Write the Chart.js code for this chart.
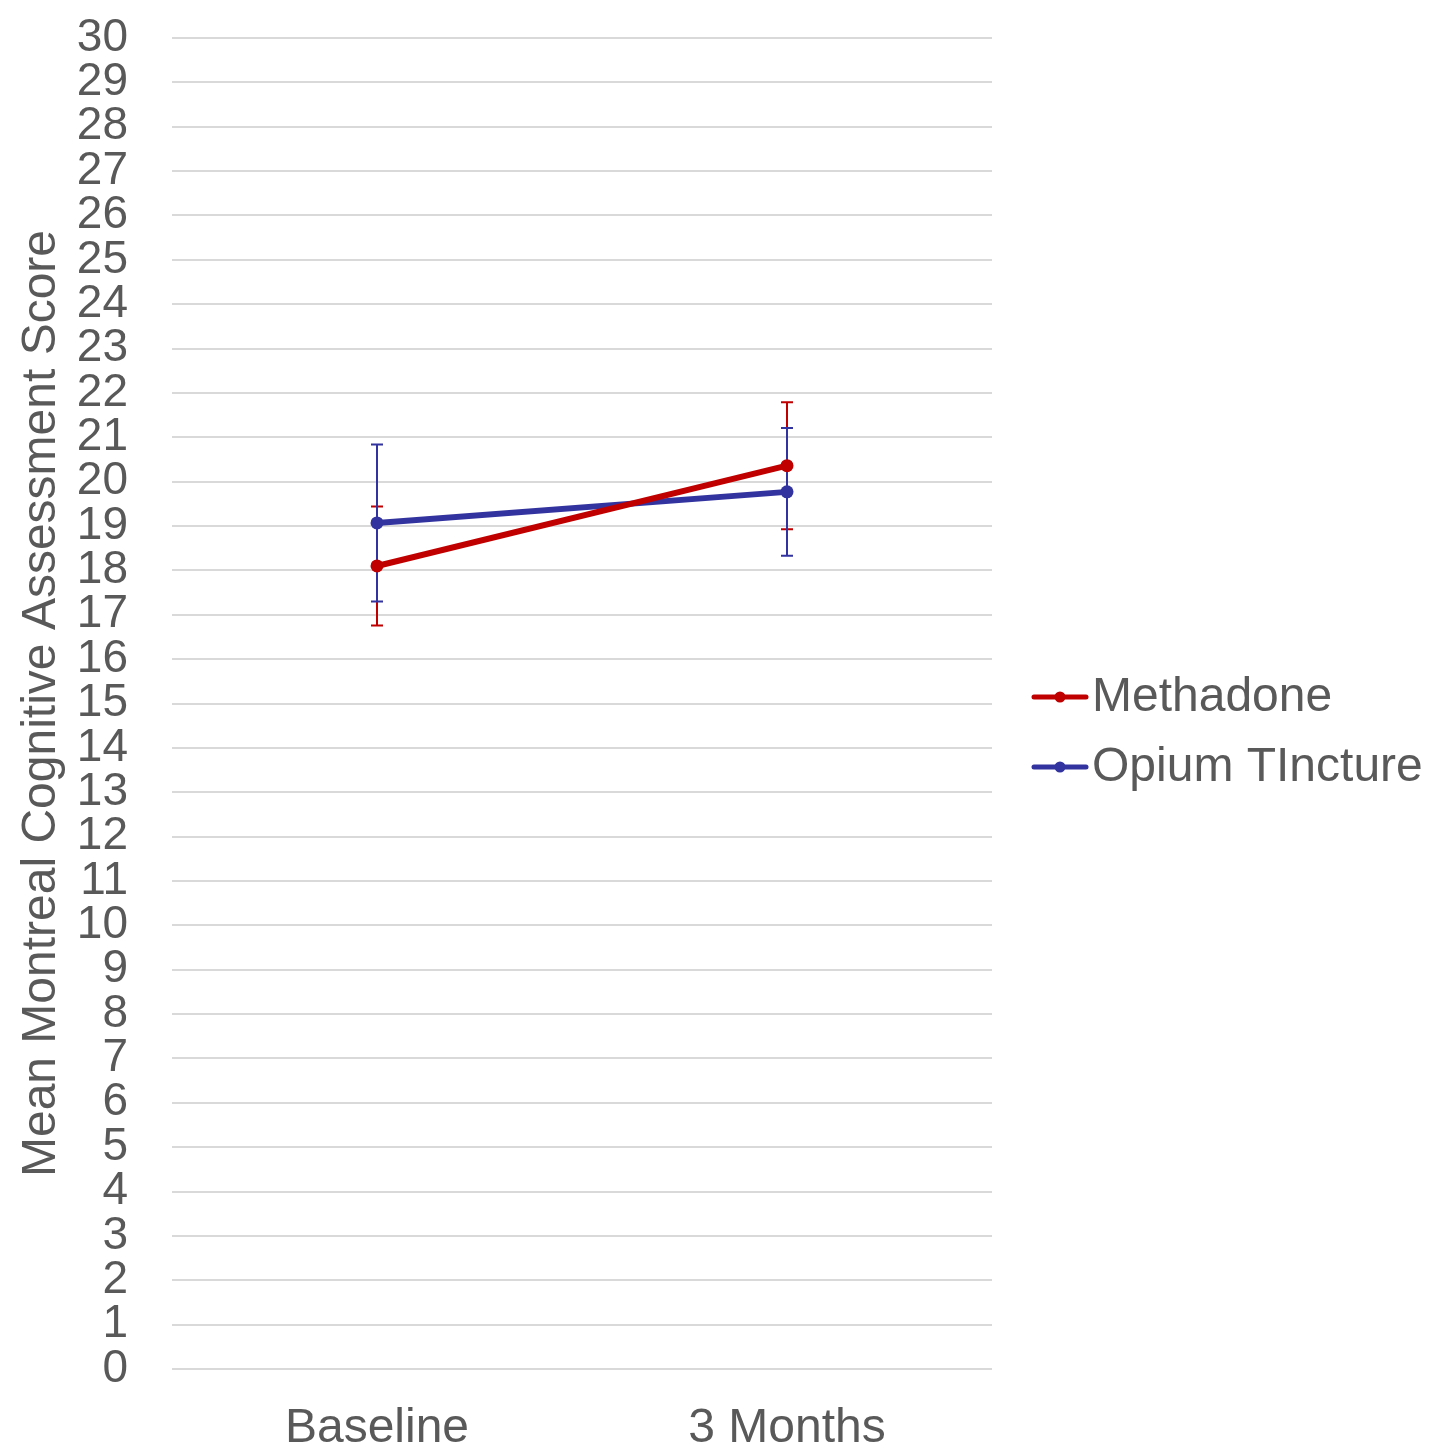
<!DOCTYPE html>
<html lang="en">
<head>
    <meta charset="UTF-8">
    <title>MoCA score</title>
    <script src="https://cdn.jsdelivr.net/npm/chart.js@4.4.0/dist/chart.umd.min.js"></script>
    <style>
        html, body { margin: 0; padding: 0; background: #fff; }
        #wrap { width: 1441px; height: 1446px; }
    </style>
</head>
<body>
    <div id="wrap"><canvas id="myChart"></canvas></div>
    <script>
        // data
        const categories = ["Baseline", "3 Months"];
        const seriesNames = ["Methadone", "Opium TIncture"];
        const methadone = [18.1, 20.36];
        const methadoneErr = [1.34, 1.43];
        const opium = [19.07, 19.77];
        const opiumErr = [1.77, 1.44];

        const red = "#C00000";
        const blue = "#3333A0";
        const textColor = "#595959";
        const fontFamily = "'Liberation Sans', Arial, sans-serif";

        // error bars behind the lines
        const errorBars = {
            id: "errorBars",
            beforeDatasetsDraw(chart) {
                const ctx = chart.ctx;
                const y = chart.scales.y;
                chart.data.datasets.forEach((ds, i) => {
                    const meta = chart.getDatasetMeta(i);
                    meta.data.forEach((pt, j) => {
                        const v = ds.data[j], e = ds.errors[j];
                        const top = y.getPixelForValue(v + e);
                        const bot = y.getPixelForValue(v - e);
                        ctx.save();
                        ctx.strokeStyle = ds.borderColor;
                        ctx.lineWidth = 2;
                        ctx.beginPath();
                        ctx.moveTo(pt.x, top); ctx.lineTo(pt.x, bot);
                        ctx.moveTo(pt.x - 6, top); ctx.lineTo(pt.x + 6, top);
                        ctx.moveTo(pt.x - 6, bot); ctx.lineTo(pt.x + 6, bot);
                        ctx.stroke();
                        ctx.restore();
                    });
                });
            }
        };

        // legend on the right, line with a dot like the original
        const sideLegend = {
            id: "sideLegend",
            afterDraw(chart) {
                const ctx = chart.ctx;
                const x0 = chart.chartArea.right + 42;
                let yy = 697;
                chart.data.datasets.forEach((ds) => {
                    ctx.save();
                    ctx.strokeStyle = ds.borderColor;
                    ctx.lineWidth = 5;
                    ctx.lineCap = "round";
                    ctx.beginPath();
                    ctx.moveTo(x0, yy); ctx.lineTo(x0 + 52, yy);
                    ctx.stroke();
                    ctx.fillStyle = ds.borderColor;
                    ctx.beginPath();
                    ctx.arc(x0 + 26, yy, 5.5, 0, Math.PI * 2);
                    ctx.fill();
                    ctx.fillStyle = textColor;
                    ctx.font = "48px " + fontFamily;
                    ctx.textBaseline = "middle";
                    ctx.textAlign = "left";
                    ctx.fillText(ds.label, x0 + 58, yy + 1);
                    ctx.restore();
                    yy += 70;
                });
            }
        };

        new Chart("myChart", {
            type: "line",
            data: {
                labels: categories,
                datasets: [{
                    label: seriesNames[0],
                    data: methadone,
                    errors: methadoneErr,
                    borderColor: red,
                    backgroundColor: red,
                    borderWidth: 6,
                    pointRadius: 6.5,
                    pointBorderWidth: 0
                }, {
                    label: seriesNames[1],
                    data: opium,
                    errors: opiumErr,
                    borderColor: blue,
                    backgroundColor: blue,
                    borderWidth: 6,
                    pointRadius: 6.5,
                    pointBorderWidth: 0
                }]
            },
            options: {
                responsive: true,
                maintainAspectRatio: false,
                animation: false,
                layout: { padding: { top: 38, right: 449, bottom: 0, left: 0 } },
                plugins: {
                    tooltip: { enabled: false },
                    legend: { display: false }
                },
                scales: {
                    x: {
                        offset: true,
                        grid: { display: false },
                        border: { display: false },
                        ticks: {
                            color: textColor,
                            font: { family: fontFamily, size: 48 },
                            padding: 23
                        },
                        afterFit(scale) { scale.height = 77; }
                    },
                    y: {
                        min: 0,
                        max: 30,
                        grid: { color: "#d9d9d9", lineWidth: 2, drawTicks: false },
                        border: { display: false },
                        ticks: {
                            stepSize: 1,
                            color: textColor,
                            font: { family: fontFamily, size: 46 },
                            padding: 44,
                            autoSkip: false
                        },
                        title: {
                            display: true,
                            text: "Mean Montreal Cognitive Assessment Score",
                            color: textColor,
                            font: { family: fontFamily, size: 48 },
                            padding: { top: 13, bottom: 6 }
                        },
                        afterFit(scale) {
                            scale.width = 172;
                            scale.paddingTop = 0;
                            scale.paddingBottom = 0;
                        }
                    }
                }
            },
            plugins: [errorBars, sideLegend]
        });
    </script>
</body>
</html>
